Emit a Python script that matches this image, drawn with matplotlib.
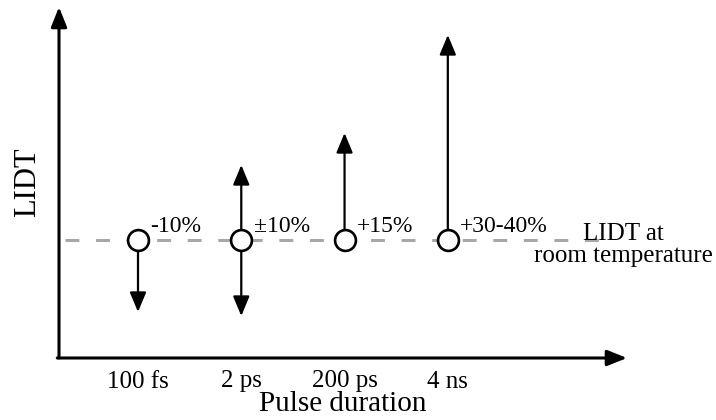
import matplotlib
matplotlib.use("Agg")
import matplotlib.pyplot as plt

plt.rcParams["font.family"] = ["Liberation Serif", "DejaVu Serif"]
plt.rcParams["lines.scale_dashes"] = False

# data: pulse durations and relative LIDT change arrows (baseline = 0)
durations = ["100 fs", "2 ps", "200 ps", "4 ns"]
labels = ["-10%", "\u00b110%", "+15%", "+30-40%"]
up_tips = [None, 0.75, 1.07, 2.05]
down_tips = [-0.72, -0.76, None, None]
baseline = 0.0

W, H = 716, 420
fig = plt.figure(figsize=(W / 100, H / 100), dpi=100)
ax = fig.add_axes([59 / W, (H - 358) / H, (627 - 59) / W, (358 - 7) / H])
ax.set_xlim(-0.765, 4.735)
ax.set_ylim(-1.18, 2.33)
for s in ax.spines.values():
    s.set_visible(False)

# axis arrows
axis_arrow = dict(arrowstyle="-|>,head_length=0.6,head_width=0.24", lw=2.2,
                  color="black", shrinkA=0, shrinkB=0, mutation_scale=20)
ax.annotate("", xy=(0, 1), xytext=(0, 0), xycoords="axes fraction",
            arrowprops=axis_arrow)
ax.annotate("", xy=(1, 0), xytext=(-0.003, 0), xycoords="axes fraction",
            arrowprops=axis_arrow)

# room temperature level
ax.plot([-0.71, 4.47], [baseline, baseline], color="#a8a8a8", lw=2.2,
        ls=(0, (10, 12)), zorder=1)
ax.text(4.70, baseline - 0.05, "LIDT at\nroom temperature", ha="center",
        va="center", fontsize=18, linespacing=0.95)

xs = list(range(len(durations)))
r = 0.11
arrow = dict(arrowstyle="-|>,head_length=0.6,head_width=0.25", lw=1.6,
             color="black", shrinkA=0, shrinkB=0, mutation_scale=20)
for x, up, down, lab in zip(xs, up_tips, down_tips, labels):
    if up is not None:
        ax.annotate("", xy=(x, up), xytext=(x, baseline + r), arrowprops=arrow)
    if down is not None:
        ax.annotate("", xy=(x, down), xytext=(x, baseline - r), arrowprops=arrow)
    ax.annotate(lab, xy=(x, baseline), xytext=(9, 10), textcoords="offset points",
                ha="left", va="center", fontsize=17)

ax.plot(xs, [baseline] * len(xs), "o", ms=15, mfc="white", mec="black",
        mew=1.9, zorder=5)

ax.set_xticks(xs)
ax.set_xticklabels(durations, fontsize=18)
ax.tick_params(axis="x", length=0, pad=9)
ax.set_yticks([])
ax.set_xlabel("Pulse duration", fontsize=21)
ax.xaxis.set_label_coords(0.5, (358 - 391) / (358 - 7))
ax.set_ylabel("LIDT", fontsize=22, labelpad=12)

fig.savefig("out.png", dpi=100)
